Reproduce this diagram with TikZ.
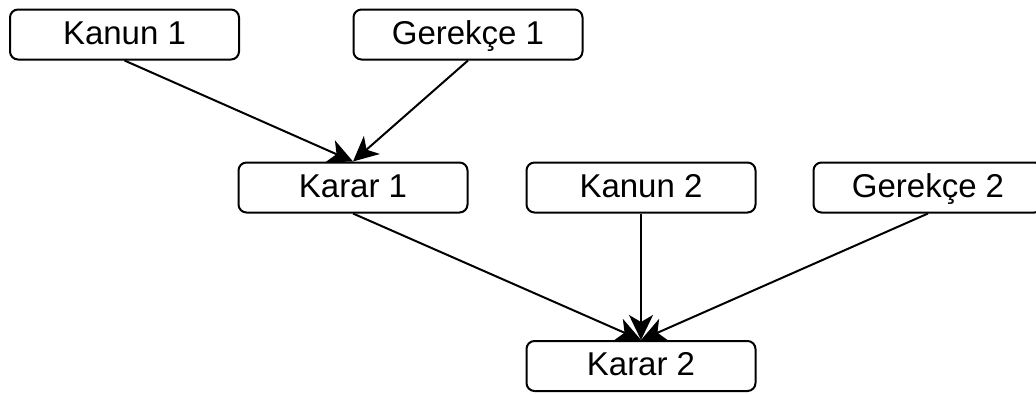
\documentclass[tikz,border=0pt]{standalone}
\usepackage{fontspec}
\setmainfont{Liberation Sans}
\usetikzlibrary{arrows.meta}
\begin{document}
\begin{tikzpicture}[x=1pt,y=-1pt,
  box/.style={draw, line width=2pt, rounded corners=8pt, minimum width=229pt, minimum height=50pt,
    inner sep=0pt, text height=24pt, text depth=5pt, font=\fontsize{33}{38}\selectfont, fill=white},
  conn/.style={line width=2pt, -{Stealth[length=25pt,width=24pt,inset=7pt]}}]
\useasboundingbox (0,0) rectangle (1036,394);
\clip (0,0) rectangle (1036,394);
\node[box] (k1) at (124.5,34.5) {Kanun 1};
\node[box] (g1) at (468,34.5) {Gerekçe 1};
\node[box] (r1) at (353,187.5) {Karar 1};
\node[box] (k2) at (641,187.5) {Kanun 2};
\node[box] (g2) at (928,187.5) {Gerekçe 2};
\node[box] (r2) at (641,366) {Karar 2};
\draw[conn] (k1.south) -- (r1.north);
\draw[conn] (g1.south) -- (r1.north);
\draw[conn] (r1.south) -- (r2.north);
\draw[conn] (k2.south) -- (r2.north);
\draw[conn] (g2.south) -- (r2.north);
\end{tikzpicture}
\end{document}
